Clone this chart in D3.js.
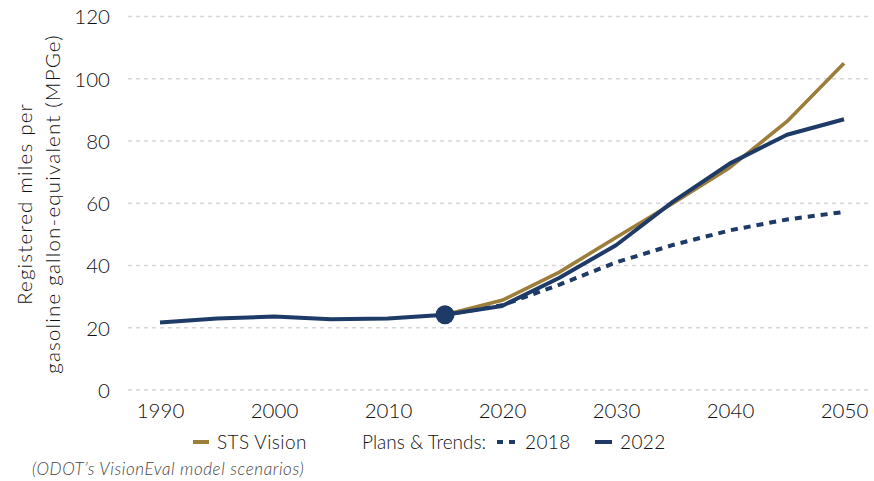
<!DOCTYPE html>
<html>
<head>
<meta charset="utf-8">
<script src="https://cdn.jsdelivr.net/npm/d3@7"></script>
<style>
  body { margin: 0; background: #fff; font-family: Lato, "Open Sans", sans-serif; }
  .tick text { fill: #111; font-size: 20.5px; font-family: Lato, sans-serif; font-weight: 300; }
</style>
</head>
<body>
<svg id="chart" width="874" height="481"></svg>
<script>
// years (5-year steps) and series values
var years = [1990, 1995, 2000, 2005, 2010, 2015, 2020, 2025, 2030, 2035, 2040, 2045, 2050];
var plans2022 = [21.7, 23.0, 23.6, 22.7, 23.0, 24.2, 27.0, 36.0, 46.5, 60.5, 72.8, 82.0, 87.0];
var plans2018 = [null, null, null, null, null, 24.2, 27.2, 33.8, 41.0, 46.6, 51.3, 54.8, 57.2];
var stsVision = [null, null, null, null, null, 24.2, 28.8, 37.8, 49.0, 60.0, 71.5, 86.3, 105.0];
var xTicks = [1990, 2000, 2010, 2020, 2030, 2040, 2050];
var yTicks = [0, 20, 40, 60, 80, 100, 120];
var markerYear = 2015, markerValue = 24.2;

var gold = "#9d7d3a", navy = "#1e3a66", ink = "#111";

var svg = d3.select("#chart");

var x = d3.scaleLinear().domain([1990, 2050]).range([160, 844]);
var y = d3.scaleLinear().domain([0, 120]).range([390, 16.5]);

// grid lines
svg.append("g").selectAll("line")
  .data(yTicks)
  .enter().append("line")
  .attr("x1", 128).attr("x2", 870)
  .attr("y1", function (d) { return y(d); })
  .attr("y2", function (d) { return y(d); })
  .attr("stroke", "#d6d6d6")
  .attr("stroke-width", 1.3)
  .attr("stroke-dasharray", "4,4");

// y axis (labels only)
var yAxis = svg.append("g")
  .attr("transform", "translate(110,0)")
  .call(d3.axisLeft(y).tickValues(yTicks).tickSize(0).tickPadding(0));
yAxis.select(".domain").remove();
yAxis.selectAll("text").attr("dy", "0.36em");

// x axis (labels only)
var xAxis = svg.append("g")
  .attr("transform", "translate(0,401)")
  .call(d3.axisBottom(x).tickValues(xTicks).tickFormat(d3.format("d")).tickSize(0).tickPadding(0));
xAxis.select(".domain").remove();
xAxis.selectAll("text").attr("dy", "0.85em");

// y title
var title = svg.append("text")
  .attr("transform", "translate(0,204) rotate(-90)")
  .attr("text-anchor", "middle")
  .attr("fill", ink)
  .style("font-size", "20.5px")
  .style("font-weight", 300)
  .style("letter-spacing", "1.2px");
title.append("tspan").attr("x", 0).attr("y", 32).text("Registered miles per");
title.append("tspan").attr("x", 0).attr("y", 60).text("gasoline gallon-equivalent (MPGe)");

function series(vals) {
  return years.map(function (yr, i) { return { year: yr, value: vals[i] }; })
    .filter(function (d) { return d.value != null; });
}

var line = d3.line()
  .x(function (d) { return x(d.year); })
  .y(function (d) { return y(d.value); });

svg.append("path")
  .datum(series(plans2018))
  .attr("d", line)
  .attr("fill", "none")
  .attr("stroke", navy)
  .attr("stroke-width", 4)
  .attr("stroke-dasharray", "7,6");

svg.append("path")
  .datum(series(stsVision))
  .attr("d", line)
  .attr("fill", "none")
  .attr("stroke", gold)
  .attr("stroke-width", 3.6)
  .attr("stroke-linejoin", "round");

svg.append("path")
  .datum(series(plans2022))
  .attr("d", line)
  .attr("fill", "none")
  .attr("stroke", navy)
  .attr("stroke-width", 4)
  .attr("stroke-linejoin", "round");

svg.append("circle")
  .attr("cx", x(markerYear))
  .attr("cy", y(markerValue))
  .attr("r", 9.5)
  .attr("fill", navy);

// legend
var legend = svg.append("g").attr("transform", "translate(0,442)");
var items = [
  { x: 193, w: 16, color: gold, dash: null, label: "STS Vision" },
  { x: 497, w: 20, color: navy, dash: "6,6", label: "2018" },
  { x: 595, w: 17, color: navy, dash: null, label: "2022" }
];
legend.selectAll("line")
  .data(items)
  .enter().append("line")
  .attr("x1", function (d) { return d.x; })
  .attr("x2", function (d) { return d.x + d.w; })
  .attr("y1", 0).attr("y2", 0)
  .attr("stroke", function (d) { return d.color; })
  .attr("stroke-width", 4)
  .attr("stroke-dasharray", function (d) { return d.dash; });
legend.selectAll("text.lbl")
  .data(items)
  .enter().append("text")
  .attr("class", "lbl")
  .attr("x", function (d) { return d.x + d.w + 8; })
  .attr("y", 0)
  .attr("dy", "0.36em")
  .attr("fill", ink)
  .style("font-size", "19px")
  .style("font-weight", 300)
  .style("letter-spacing", "0.4px")
  .text(function (d) { return d.label; });
legend.append("text")
  .attr("x", 362).attr("y", 0).attr("dy", "0.36em")
  .attr("fill", ink)
  .style("font-size", "19px")
  .style("font-weight", 300)
  .text("Plans & Trends:");

svg.append("text")
  .attr("x", 32).attr("y", 475)
  .attr("fill", "#444")
  .style("font-size", "17px")
  .style("font-style", "italic")
  .style("font-weight", 300)
  .style("letter-spacing", "0.6px")
  .text("(ODOT’s VisionEval model scenarios)");
</script>
</body>
</html>
